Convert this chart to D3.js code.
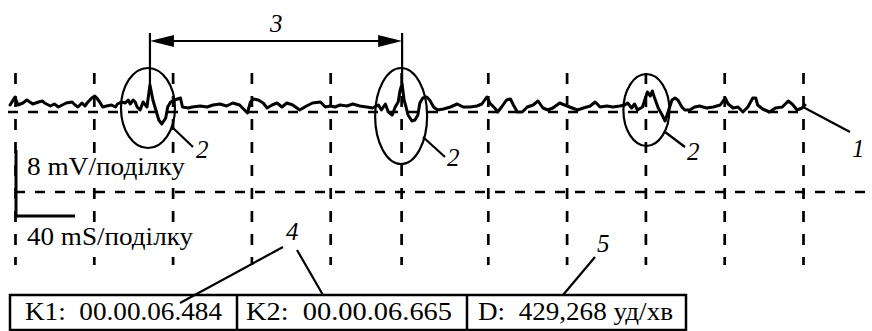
<!DOCTYPE html>
<html><head><meta charset="utf-8">
<script src="https://cdn.jsdelivr.net/npm/d3@7"></script>
<style>
html,body{margin:0;padding:0;background:#fff;}
svg{display:block;}
text{font-family:'Liberation Serif','Times New Roman',serif;fill:#000;white-space:pre;}
</style></head>
<body>
<svg id="chart" width="872" height="331"></svg>
<script>
// ---- data ----
const timeMs = [-2.5,0,1.5,4,6,7.5,9,12,14,15,18,20,22,24,26,29,30.5,32,34,35.5,37,39,40.5,41.5,43,44.5,46.5,49,51,52,54,56,57.5,58.5,60,61,62,63.5,65,67,68.5,70,71.5,73,74.5,76.5,77.5,79,81,84,85,88,90,94,97.5,100.5,104,107.5,110.5,114,118,119.5,121,123.5,126,128,130.5,133,135.5,138,141,144.5,148,151,155,157.5,160,162.5,165,168.5,171.5,175,178.5,181.5,184.5,186,188,189.5,191.5,193,194.5,195.5,196.5,197.5,198.5,199.5,201.5,203,204.5,205.5,207,209,210.5,212.5,214.5,217.5,221,224.5,227.5,231,234.5,237,239.5,241,243.5,245,247,249.5,251.5,253,255,257.5,260,263,265.5,268,270.5,273,276.5,279,281.5,285.5,288.5,292,294.5,297,300.5,303.5,307,309.5,311,313,314.5,316,318.5,320,321,322.5,323.5,324.5,326.5,328.5,330,331.5,333.5,335,336.5,338.5,340,342.5,345,347.5,351,354.5,358,360.5,362,364.5,367,369.5,372,374.5,376,377,379.5,383,386,389.5,392.5,394.5,397,399.5,401];
const voltageMv = [0.7,1.5,0.7,0.9,1.2,1.0,0.8,1.0,1.1,0.9,0.6,0.8,0.5,0.7,0.9,1.0,0.7,0.5,0.9,0.6,1.0,1.4,1.6,1.4,1.0,0.5,0.6,0.7,0.5,0.8,1.0,0.9,1.2,0.8,1.2,1.0,0.5,0.2,1.0,0.5,2.7,1.2,0.2,-0.8,-1.2,-0.6,0.5,1.0,1.2,1.4,0.5,0.4,0.5,0.6,0.5,0.7,0.8,0.6,0.9,0.7,-0.1,1.0,1.3,1.2,0.9,0.4,0.7,0.9,0.5,0.9,0.7,0.2,0.6,0.9,1.0,0.5,0.6,0.5,0.7,0.6,0.8,0.6,0.5,0.4,0.7,0.2,0.8,0.0,-0.3,0.5,1.0,2.2,2.8,1.2,0.5,-0.3,-0.9,-0.8,-0.3,0.9,1.4,1.5,1.2,0.5,0.2,0.3,0.5,0.8,0.5,0.5,0.6,0.8,1.5,0.9,0.4,0.0,0.5,1.2,1.3,0.7,0.0,0.0,0.5,0.7,1.1,0.4,0.2,0.4,0.9,0.7,0.5,0.2,0.4,0.6,1.0,0.5,0.6,0.5,0.6,0.7,0.9,0.4,0.8,0.2,0.5,1.4,2.0,1.6,2.1,1.5,0.4,-0.3,-0.9,0.0,1.2,1.4,1.2,0.5,0.2,0.2,0.5,0.6,0.4,0.5,0.7,1.4,0.8,0.4,0.5,0.0,0.5,1.4,1.4,0.7,0.3,0.0,0.4,0.5,1.1,0.8,0.2,0.4,0.7];
const gridTimes = [0,40,80,120,160,196,240,280,320,360,400];
const gridVolts = [0,-8];
const peakTimes = [68.5,196.5,322.5];
const scaleLabels = ["8 mV/поділку","40 mS/поділку"];
const readouts = ["K1:  00.00.06.484","K2:  00.00.06.665","D:  429,268 уд/хв"];
const calloutLabels = ["1","2","3","4","5"];

// ---- scales ----
const svg = d3.select("#chart");
const x = d3.scaleLinear().domain([0,400]).range([15,803]);
const y = d3.scaleLinear().domain([-8,0]).range([192,112]);

// vertical dashed grid via axis
const gx = svg.append("g").attr("transform","translate(0,73)")
  .call(d3.axisTop(x).tickValues(gridTimes).tickSize(-192).tickFormat(""));
gx.select(".domain").remove();
gx.selectAll(".tick line").attr("stroke","#000").attr("stroke-width",2.7).attr("stroke-dasharray","11 12");

// horizontal dashed lines
svg.append("line").attr("x1",8).attr("x2",x(400)+2).attr("y1",y(gridVolts[0])).attr("y2",y(gridVolts[0]))
  .attr("stroke","#000").attr("stroke-width",2.7).attr("stroke-dasharray","10 10");
svg.append("line").attr("x1",15).attr("x2",872).attr("y1",y(gridVolts[1])).attr("y2",y(gridVolts[1]))
  .attr("stroke","#000").attr("stroke-width",2.7).attr("stroke-dasharray","10 10");

// trace
const pts = timeMs.map((t,i)=>[t,voltageMv[i]]);
svg.append("path").datum(pts)
  .attr("d", d3.line().x(d=>x(d[0])).y(d=>y(d[1])))
  .attr("fill","none").attr("stroke","#000").attr("stroke-width",3)
  .attr("stroke-linejoin","round").attr("stroke-linecap","round");

// ellipses around complexes
const ell = [{t:67.5,cy:108,rx:27,ry:40},{t:196,cy:116,rx:26,ry:48},{t:320.5,cy:110,rx:23,ry:36}];
svg.selectAll("ellipse.c").data(ell).enter().append("ellipse")
  .attr("cx",d=>x(d.t)).attr("cy",d=>d.cy).attr("rx",d=>d.rx).attr("ry",d=>d.ry)
  .attr("fill","none").attr("stroke","#000").attr("stroke-width",2.2);

// interval arrow (3)
const ax1 = x(peakTimes[0]), ax2 = x(peakTimes[1]), ay = 41;
[ax1,ax2].forEach((px,i)=>{
  svg.append("line").attr("x1",px).attr("x2",px).attr("y1",33).attr("y2",y(voltageMv[i===0?40:92]))
    .attr("stroke","#000").attr("stroke-width",2.2);
});
svg.append("line").attr("x1",ax1+10).attr("x2",ax2-10).attr("y1",ay).attr("y2",ay).attr("stroke","#000").attr("stroke-width",2.2);
svg.append("path").attr("d",`M${ax1},${ay} L${ax1+24},${ay-6} L${ax1+24},${ay+6} Z`).attr("fill","#000");
svg.append("path").attr("d",`M${ax2},${ay} L${ax2-24},${ay-6} L${ax2-24},${ay+6} Z`).attr("fill","#000");

// leader lines
const leaders = [[172,127,193,147],[423,137,445,157],[665,132,685,147],[803,107,850,132],[283,247,180,303],[297,250,323,295],[595,257,563,295]];
svg.selectAll("line.ld").data(leaders).enter().append("line")
  .attr("x1",d=>d[0]).attr("y1",d=>d[1]).attr("x2",d=>d[2]).attr("y2",d=>d[3])
  .attr("stroke","#000").attr("stroke-width",2.2);

// callout labels
const lab = [
  {s:calloutLabels[2],x:270,y:32},
  {s:calloutLabels[1],x:196,y:158},
  {s:calloutLabels[1],x:447,y:166},
  {s:calloutLabels[1],x:687,y:160},
  {s:calloutLabels[0],x:852,y:157},
  {s:calloutLabels[3],x:286,y:240},
  {s:calloutLabels[4],x:597,y:252}
];
svg.selectAll("text.cl").data(lab).enter().append("text")
  .attr("x",d=>d.x).attr("y",d=>d.y).attr("font-size",25).attr("font-style","italic").text(d=>d.s);

// scale bar labels with white backing
const scaleG = svg.append("g");
const s1 = scaleG.append("text").attr("x",27).attr("y",175).attr("font-size",25)
  .attr("textLength",158).attr("lengthAdjust","spacingAndGlyphs").text(scaleLabels[0]);
const s2 = scaleG.append("text").attr("x",27).attr("y",245).attr("font-size",25)
  .attr("textLength",166).attr("lengthAdjust","spacingAndGlyphs").text(scaleLabels[1]);
[[s1,158],[s2,166]].forEach(([s,w])=>{
  const b = s.node().getBBox();
  scaleG.insert("rect","text").attr("x",25).attr("y",b.y+1).attr("width",w+5).attr("height",b.height-1).attr("fill","#fff");
});
svg.append("line").attr("x1",16).attr("x2",16).attr("y1",150).attr("y2",217.5).attr("stroke","#000").attr("stroke-width",3);
svg.append("line").attr("x1",14.5).attr("x2",75).attr("y1",216).attr("y2",216).attr("stroke","#000").attr("stroke-width",3);

// readout box
svg.append("rect").attr("x",10).attr("y",295).attr("width",676).attr("height",35)
  .attr("fill","none").attr("stroke","#000").attr("stroke-width",2.5);
[237,467].forEach(px=>svg.append("line").attr("x1",px).attr("x2",px).attr("y1",295).attr("y2",331).attr("stroke","#000").attr("stroke-width",2.5));
const tl = [197,206,195], tx = [25,246,478];
svg.selectAll("text.ro").data(readouts).enter().append("text")
  .attr("x",(d,i)=>tx[i]).attr("y",320).attr("font-size",25)
  .attr("textLength",(d,i)=>tl[i]).attr("lengthAdjust","spacingAndGlyphs").text(d=>d);
</script>
</body></html>
